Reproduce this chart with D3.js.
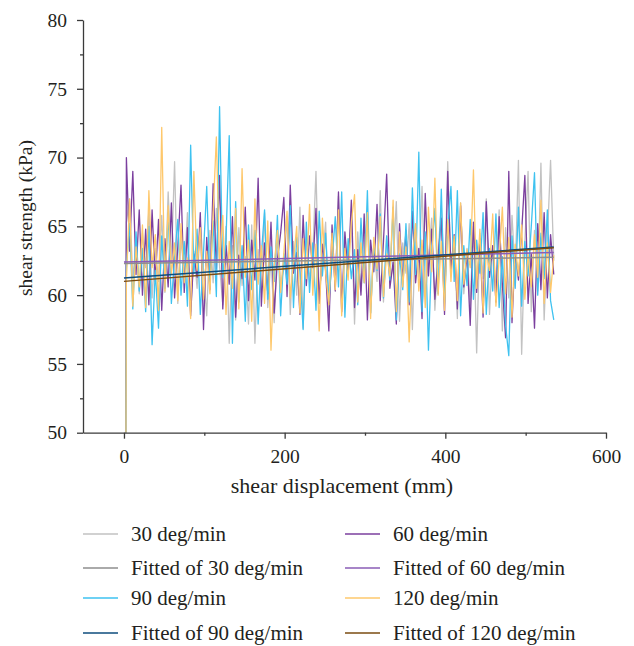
<!DOCTYPE html>
<html><head><meta charset="utf-8">
<script src="https://cdn.jsdelivr.net/npm/d3@7/dist/d3.min.js"></script>
<style>body{margin:0;background:#fff}svg{display:block}</style>
</head><body>
<svg id="chart" width="634" height="646"></svg>
<script>
const displacement = [
0,3,7,11,15,19,23,27,31,35,
39,43,47,51,55,59,63,67,71,75,
79,83,87,91,95,99,103,107,111,115,
119,123,127,131,135,139,143,147,151,155,
159,163,167,171,175,179,183,187,191,195,
199,203,207,211,215,219,223,227,231,235,
239,243,247,251,255,259,263,267,271,275,
279,283,287,291,295,299,303,307,311,315,
319,323,327,331,335,339,343,347,351,355,
359,363,367,371,375,379,383,387,391,395,
399,403,407,411,415,419,423,427,431,435,
439,443,447,451,455,459,463,467,471,475,
479,483,487,491,495,499,503,507,511,515,
519,523,527,531,535];

const s30 = [
0,65.3,67.0,61.2,63.8,60.1,64.5,62.0,66.2,59.8,
63.4,61.0,65.8,60.2,67.5,62.3,69.7,59.4,64.1,61.5,
66.0,58.8,63.2,60.5,65.4,61.8,58.5,64.7,60.9,66.3,
62.1,59.3,65.0,56.5,63.6,58.2,64.9,60.7,62.8,57.9,
65.1,56.5,63.3,60.2,66.0,59.1,62.7,58.0,64.4,60.8,
61.9,65.7,58.6,63.9,60.0,66.4,57.6,64.2,61.1,63.0,
69.0,59.7,62.5,65.3,58.4,64.0,60.6,67.2,59.0,63.7,
61.4,66.1,57.9,64.6,60.3,62.9,65.9,58.7,63.5,61.0,
67.6,59.5,64.3,60.9,62.2,66.8,58.1,63.8,61.6,65.2,
57.5,64.8,61.3,67.9,59.9,62.6,65.6,58.9,63.1,66.5,
60.4,69.7,61.7,64.1,58.3,66.7,60.1,63.4,59.2,65.0,
55.8,64.5,61.2,67.0,58.6,63.6,60.7,66.2,57.4,64.9,
59.8,65.8,61.5,69.8,55.7,63.9,69.0,58.8,64.7,60.3,
69.6,58.2,64.0,69.8,62.5];

const s60 = [
0,70.0,63.2,69.0,61.5,66.2,60.0,64.8,59.3,66.2,
61.0,65.5,58.9,64.1,60.6,66.7,59.8,63.5,68.0,60.2,
64.9,58.5,63.0,61.3,66.0,57.5,64.2,60.4,68.1,61.9,
68.7,59.0,63.6,60.8,65.7,58.4,62.9,61.2,66.4,59.6,
64.0,61.1,68.5,59.2,63.8,60.1,65.3,58.7,62.6,64.5,
67.1,59.9,68.0,61.6,63.1,58.6,65.8,60.7,64.3,62.0,
66.3,59.4,63.7,61.8,57.4,65.1,60.3,67.5,58.8,64.6,
61.5,66.9,59.1,63.3,60.0,65.9,58.2,64.0,61.7,66.6,
59.6,63.9,68.8,60.5,62.4,57.9,65.2,61.0,64.7,59.3,
66.1,60.9,63.4,58.3,67.4,61.4,64.8,59.7,62.8,65.6,
58.6,69.0,61.9,64.4,59.0,66.5,60.6,63.0,57.8,65.3,
60.2,64.1,58.4,66.8,61.3,63.6,59.5,65.7,60.8,56.9,
69.0,58.0,63.2,61.1,64.6,68.7,59.4,63.0,57.6,65.2,
60.4,66.0,59.8,64.4,61.5];

const s90 = [
0,62.0,65.2,59.0,64.6,60.3,63.4,58.8,65.0,56.4,
61.8,57.6,64.3,60.5,66.0,59.4,62.7,65.5,60.0,63.9,
59.2,70.9,61.6,64.8,58.6,63.1,67.9,60.7,65.4,59.9,
73.7,61.3,64.0,71.6,56.5,66.8,59.5,63.6,58.1,65.1,
60.4,64.7,57.9,62.9,66.2,59.7,63.5,61.0,65.8,58.5,
63.0,60.8,66.5,59.1,64.2,61.7,57.5,65.3,60.2,63.8,
58.9,66.1,61.4,64.5,59.6,62.4,65.7,60.6,67.5,58.4,
64.1,61.2,63.3,59.3,65.6,60.9,67.6,58.7,63.7,61.8,
65.9,59.8,64.3,61.1,66.4,58.2,63.0,60.4,65.2,59.5,
67.8,61.5,70.4,58.8,64.6,56.0,63.2,66.3,60.1,67.7,
59.4,64.9,67.9,61.0,67.6,58.5,63.6,60.7,65.5,59.7,
64.0,61.6,66.0,58.6,63.4,60.3,65.9,59.1,62.8,57.8,
55.6,64.3,60.5,66.4,59.2,63.9,61.4,65.0,68.9,60.0,
64.5,61.2,66.2,59.6,58.2];

const s120 = [
0,61.0,67.0,59.2,63.5,60.6,65.1,59.1,67.6,62.0,
64.4,58.9,72.2,60.3,66.5,61.5,63.8,59.6,65.2,60.9,
62.7,58.3,69.0,61.8,64.9,59.7,63.2,60.1,66.0,71.5,
62.4,65.8,58.6,63.9,60.5,66.3,59.0,69.2,61.3,64.0,
58.1,67.0,60.8,63.6,59.4,65.4,56.0,62.2,64.7,60.2,
63.1,66.1,59.8,62.5,65.0,58.7,64.1,61.2,66.6,60.0,
63.7,57.4,65.6,61.6,59.3,64.5,60.4,66.2,58.5,63.4,
61.1,65.3,67.3,59.5,63.8,60.9,66.0,58.3,64.2,61.9,
65.7,59.9,63.0,61.4,66.9,58.8,64.6,60.6,63.5,56.6,
62.8,65.2,60.3,64.0,59.1,66.4,61.7,68.5,60.0,63.9,
58.9,65.5,61.0,64.3,59.6,66.7,60.8,63.3,62.0,69.1,
60.5,64.8,58.7,63.1,61.8,65.9,59.2,62.6,66.4,60.1,
64.2,58.4,63.7,61.4,65.1,59.7,63.0,60.6,64.4,61.3,
66.9,59.4,63.8,60.2,62.9];

// linear fits: value at start and end of displacement range
const fitX = [0, 535];
const fit30 = [62.3, 62.75];
const fit60 = [62.4, 63.1];
const fit90 = [61.25, 63.5];
const fit120 = [61.0, 63.45];

const legendLabels = ["30 deg/min","Fitted of 30 deg/min","90 deg/min","Fitted of 90 deg/min",
                      "60 deg/min","Fitted of 60 deg/min","120 deg/min","Fitted of 120 deg/min"];
const xTicks = [0,200,400,600];
const xMinor = [100,300,500];
const yTicks = [50,55,60,65,70,75,80];
const yMinor = [52.5,57.5,62.5,67.5,72.5,77.5];

const C = {
  s30:"#c2c2c2", f30:"#8e8e8e",
  s60:"#7b3f9e", f60:"#8a5db6",
  s90:"#3ec2f0", f90:"#0e4c7c",
  s120:"#fec86c", f120:"#7a4b10"
};
const FONT = "'Liberation Serif','Times New Roman',serif";
const TXT = "#231f20";

const svg = d3.select("#chart");
const x = d3.scaleLinear().domain([-51,600]).range([83,606]);
const y = d3.scaleLinear().domain([50,80]).range([432.7,20]);

svg.append("defs").append("clipPath").attr("id","clip")
  .append("rect").attr("x",83).attr("y",18).attr("width",523).attr("height",432.7-18);

const plot = svg.append("g").attr("clip-path","url(#clip)");
const line = d3.line().x(d=>x(d[0])).y(d=>y(d[1]));

function pts(xs, ys){ const n=Math.min(xs.length, ys.length); const r=[]; for(let i=0;i<n;i++) r.push([xs[i],ys[i]]); return r; }

[[s30,C.s30],[s60,C.s60],[s90,C.s90],[s120,C.s120]].forEach(([vals,col])=>{
  plot.append("path").datum(pts(displacement, vals))
    .attr("d",line).attr("fill","none").attr("stroke",col)
    .attr("stroke-width",1.3).attr("stroke-linejoin","round");
});
[[fit30,C.f30],[fit60,C.f60],[fit90,C.f90],[fit120,C.f120]].forEach(([vals,col])=>{
  plot.append("path").datum(pts(fitX, vals))
    .attr("d",line).attr("fill","none").attr("stroke",col).attr("stroke-width",1.5);
});

// axes
const axisColor = "#3a3a3a";
svg.append("g").attr("transform","translate(0,432.7)")
  .call(d3.axisBottom(x).tickValues(xTicks).tickSize(6).tickSizeOuter(0).tickPadding(10).tickFormat(d3.format("d")));
svg.append("g").attr("transform","translate(0,432.7)")
  .call(d3.axisBottom(x).tickValues(xMinor).tickSize(3).tickSizeOuter(0).tickFormat(""))
  .select(".domain").remove();
svg.append("g").attr("transform","translate(83,0)")
  .call(d3.axisLeft(y).tickValues(yTicks).tickSize(6).tickSizeOuter(0).tickPadding(10).tickFormat(d3.format("d")));
svg.append("g").attr("transform","translate(83,0)")
  .call(d3.axisLeft(y).tickValues(yMinor).tickSize(3).tickSizeOuter(0).tickFormat(""))
  .select(".domain").remove();
svg.selectAll(".domain, .tick line").attr("stroke",axisColor).attr("stroke-width",1.3);
svg.selectAll(".tick text").attr("fill",TXT).style("font-family",FONT).style("font-size","19.5px");

svg.append("text").attr("x",342).attr("y",493).attr("text-anchor","middle")
  .style("font-family",FONT).style("font-size","22px").attr("fill",TXT)
  .text("shear displacement (mm)");
svg.append("text").attr("transform","translate(25,218) rotate(-90)").attr("text-anchor","middle")
  .attr("dy","0.35em")
  .style("font-family",FONT).style("font-size","19.5px").attr("fill",TXT)
  .text("shear strength (kPa)");

// legend
const legendColors = [C.s30,C.f30,C.s90,C.f90,C.s60,C.f60,C.s120,C.f120];
const rowsY = [534,568,598,633];
const colX = [83,345];
const lg = svg.append("g");
legendLabels.forEach((lab,i)=>{
  const c = Math.floor(i/4), r = i%4;
  lg.append("line").attr("x1",colX[c]).attr("x2",colX[c]+35)
    .attr("y1",rowsY[r]).attr("y2",rowsY[r]).attr("stroke",legendColors[i]).attr("stroke-width",1.6);
  lg.append("text").attr("x",colX[c]+48).attr("y",rowsY[r]).attr("dy","0.35em")
    .style("font-family",FONT).style("font-size","21px").attr("fill",TXT).text(lab);
});
</script>
</body></html>
